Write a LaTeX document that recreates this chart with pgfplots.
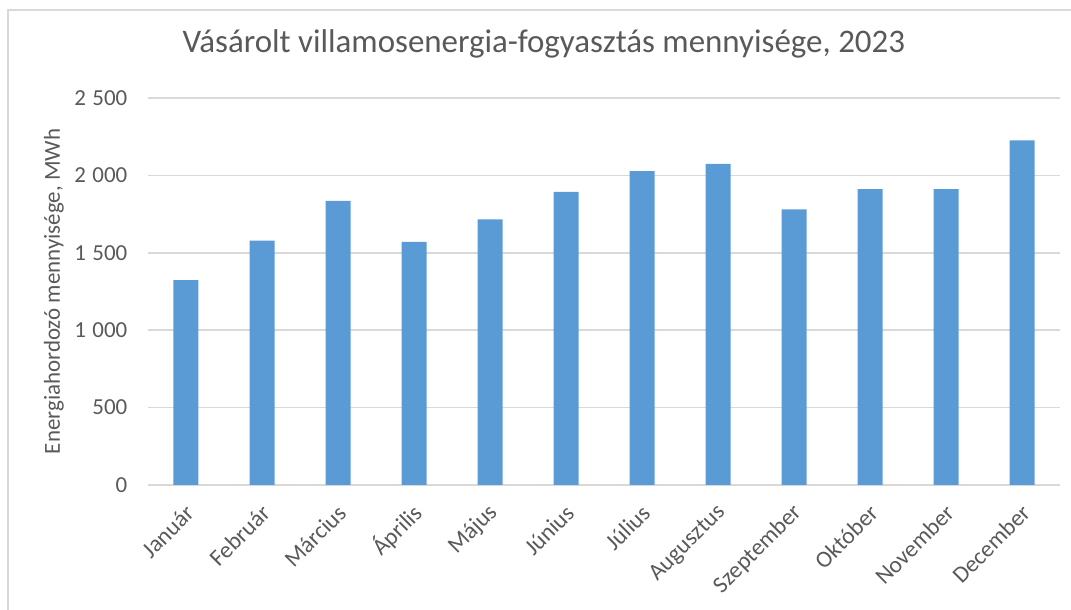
\documentclass[border=0pt]{standalone}
\usepackage{pgfplots}
\pgfplotsset{compat=1.18}
\usepackage{fontspec}
\setmainfont{Carlito}
\definecolor{barblue}{HTML}{5B9BD5}
\definecolor{gridgray}{HTML}{D9D9D9}
\definecolor{txtgray}{HTML}{595959}
\begin{document}
\begin{tikzpicture}
\useasboundingbox (-111pt,-93.75pt) rectangle (692.25pt,363.75pt);
\draw[gridgray, line width=1.1pt] (-105pt,-120pt) -- (-105pt,356.25pt) -- (720pt,356.25pt);
\begin{axis}[
  at={(0,0)}, anchor=south west,
  scale only axis, width=684pt, height=290.25pt,
  ymin=0, ymax=2500, ytick={0,500,1000,1500,2000,2500},
  xmin=-0.5, xmax=11.5, xtick={0,...,11},
  xticklabels={Január,Február,Március,Április,Május,Június,Július,Augusztus,Szeptember,Október,November,December},
  ybar, bar width=18.75pt,
  axis line style={draw=none},
  major tick length=0pt,
  ymajorgrids, grid style={draw=gridgray, line width=1.1pt},
  /pgf/number format/assume math mode=true,
  /pgf/number format/1000 sep={\hspace{0.28em}},
  yticklabel style={font=\fontsize{17.2}{20}\selectfont, text=txtgray, xshift=-12pt},
  xticklabel style={font=\fontsize{17.6}{20}\selectfont, text=txtgray, rotate=45, anchor=east, inner sep=0pt, xshift=-10.6pt, yshift=-14.9pt},
  ylabel={Energiahordozó mennyisége, MWh},
  ylabel style={at={(axis description cs:-0.1031,0.5)}, anchor=center, font=\fontsize{17.2}{20}\selectfont, text=txtgray},
  title={Vásárolt villamosenergia-fogyasztás mennyisége, 2023},
  title style={at={(axis description cs:0.434,1.098)}, anchor=base, font=\fontsize{24.7}{29}\selectfont, text=txtgray},
]
\addplot[fill=barblue, draw=none] coordinates {
(0,1324) (1,1578) (2,1835) (3,1570) (4,1716) (5,1893)
(6,2028) (7,2074) (8,1781) (9,1912) (10,1912) (11,2227)
};
\end{axis}
\end{tikzpicture}
\end{document}
